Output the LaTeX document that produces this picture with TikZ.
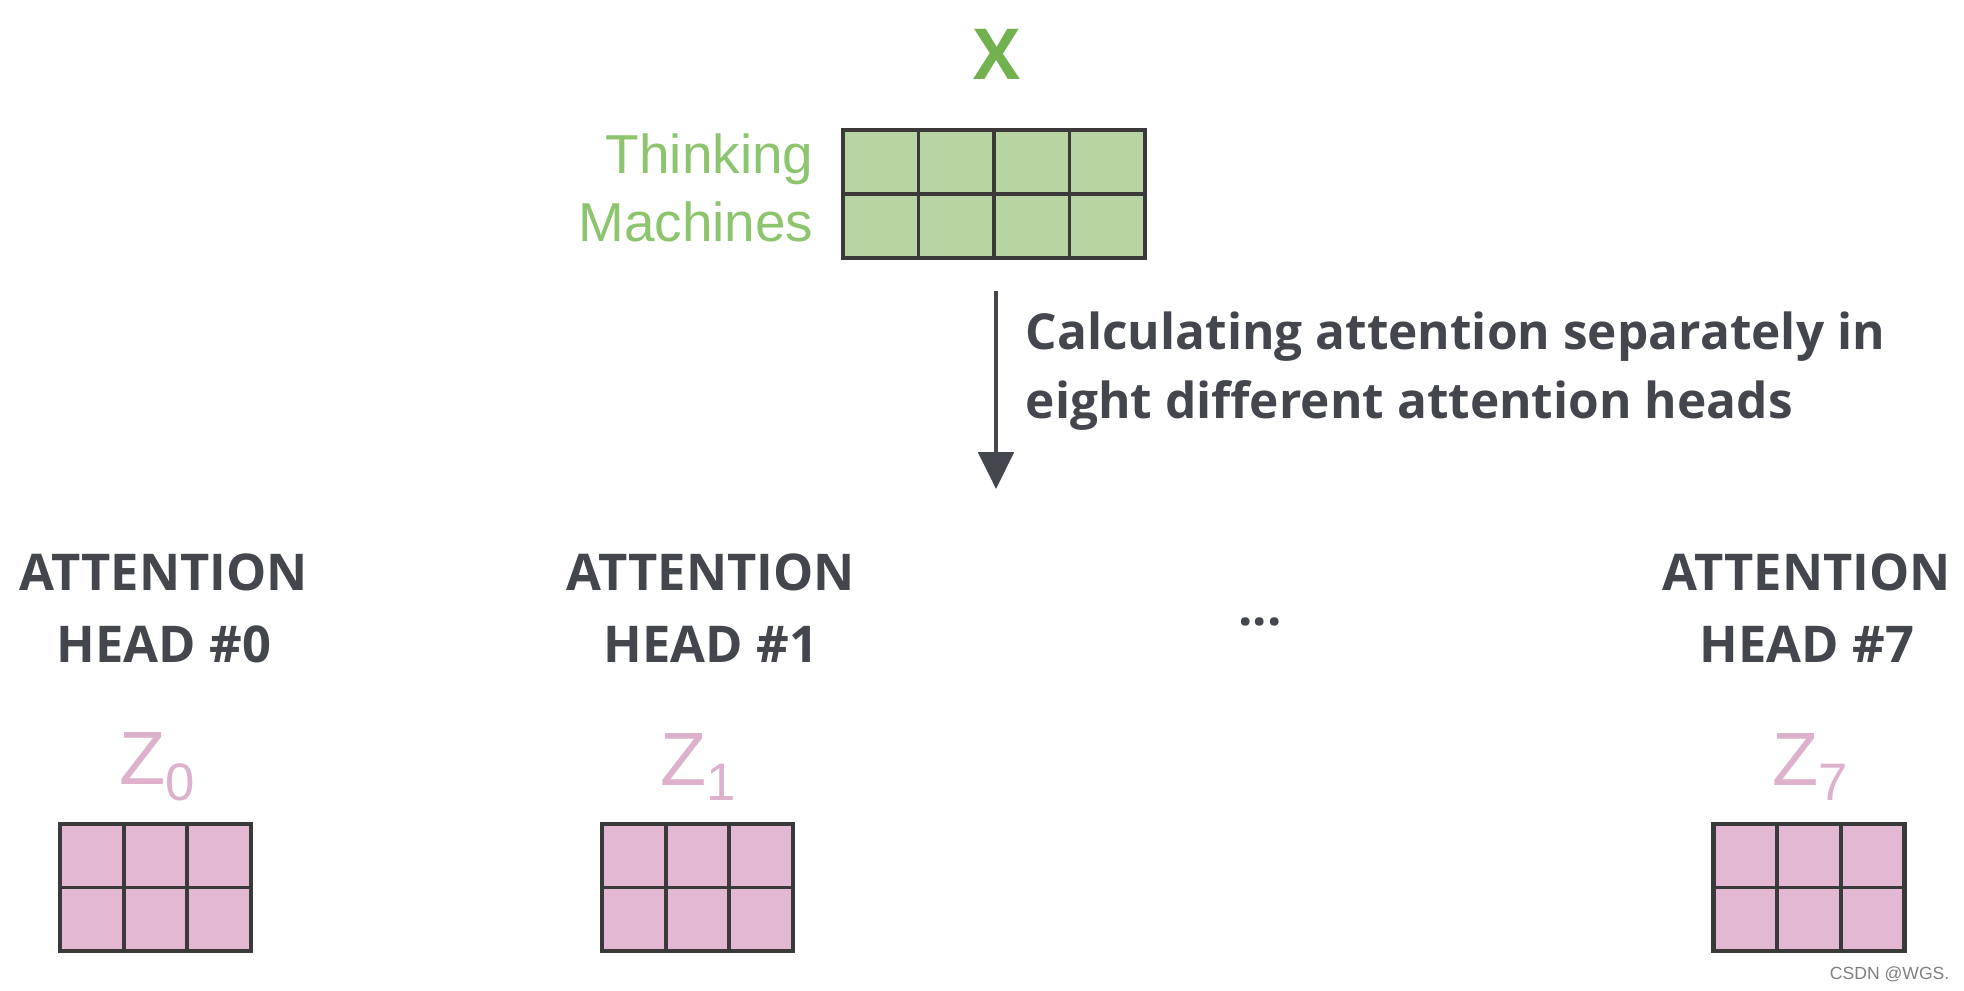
\documentclass[tikz,border=0pt]{standalone}
\usepackage{fontspec}
\setmainfont{Open Sans}
\newfontfamily\helv{Liberation Sans}
\usetikzlibrary{arrows.meta,calc}
\definecolor{gfill}{HTML}{B7D4A2}
\definecolor{gtext}{HTML}{8DC46E}
\definecolor{xgreen}{HTML}{72B14F}
\definecolor{pfill}{HTML}{E2B8D2}
\definecolor{ptext}{HTML}{DDB0CC}
\definecolor{gline}{HTML}{3A3A3A}
\definecolor{dtext}{HTML}{43474D}
\tikzset{
  gridbox/.style={draw=gline, line width=1.2pt, inner sep=0pt, outer sep=0pt},
  cellline/.style={draw=gline, line width=1.1pt},
  headlbl/.style={font=\fontsize{14.4}{20.5}\selectfont\bfseries, text=dtext, align=center, inner sep=0pt},
  zlbl/.style={font=\helv\fontsize{21.5}{24}\selectfont, text=ptext, inner sep=0pt},
  arrowline/.style={draw=dtext, line width=1.4pt, -{Triangle[length=10.5pt,width=10pt]}}
}
\newcommand{\zsub}[1]{Z{\fontsize{15}{16}\selectfont\raisebox{-0.3em}{#1}}}
\begin{document}
\begin{tikzpicture}[x=0.01cm,y=-0.01cm]
\useasboundingbox (0,0) rectangle (1964,990);
\fill[white] (0,0) rectangle (1964,990);

% X label
\node[font=\fontsize{20}{24}\selectfont\bfseries, text=xgreen, inner sep=0pt] (xlbl) at (997,54) {X};

% green matrix
\node[gridbox, fill=gfill, minimum width=3.02cm, minimum height=1.28cm] (xm) at (994,194) {};
\foreach \i in {1,2,3}
  \draw[cellline] ($(xm.north west)!\i/4!(xm.north east)$) -- ($(xm.south west)!\i/4!(xm.south east)$);
\draw[cellline] (xm.west) -- (xm.east);

\node[font=\helv\fontsize{15.6}{18}\selectfont, text=gtext, anchor=east, inner sep=0pt] (t1) at (814,159) {Thinking};
\node[font=\helv\fontsize{15.6}{18}\selectfont, text=gtext, anchor=east, inner sep=0pt] (t2) at (814,222) {Machines};

% arrow
\coordinate (as) at (996,291);
\coordinate (ae) at (996,489);
\draw[arrowline] (as) -- (ae);
\node[font=\fontsize{14.1}{19.5}\selectfont\bfseries, text=dtext, align=left, anchor=west, inner sep=0pt] (calc) at (1025,371)
  {Calculating attention separately in\\eight different attention heads};

% heads
\node[headlbl] (h0) at (164,608) {ATTENTION\\HEAD \#0};
\node[headlbl] (h1) at (711,608) {ATTENTION\\HEAD \#1};
\node[headlbl] (h7) at (1807,608) {ATTENTION\\HEAD \#7};
\node[font=\fontsize{14.4}{20}\selectfont\bfseries, text=dtext, inner sep=0pt] (dots) at (1260,622) {...};

% Z labels
\node[zlbl] (z0) at (157,767) {\zsub{0}};
\node[zlbl] (z1) at (698,767) {\zsub{1}};
\node[zlbl] (z7) at (1810,767) {\zsub{7}};

% pink matrices
\foreach \n/\cx in {m0/155.5, m1/697.5, m7/1809}{
  \node[gridbox, fill=pfill, minimum width=1.91cm, minimum height=1.27cm] (\n) at (\cx,887.5) {};
  \foreach \i in {1,2}
    \draw[cellline] ($(\n.north west)!\i/3!(\n.north east)$) -- ($(\n.south west)!\i/3!(\n.south east)$);
  \draw[cellline] (\n.west) -- (\n.east);
}

% watermark
\node[font=\helv\fontsize{5}{6}\selectfont, text=gray, anchor=east, inner sep=0pt] (wm) at (1950,974) {CSDN @WGS.};
\end{tikzpicture}
\end{document}
